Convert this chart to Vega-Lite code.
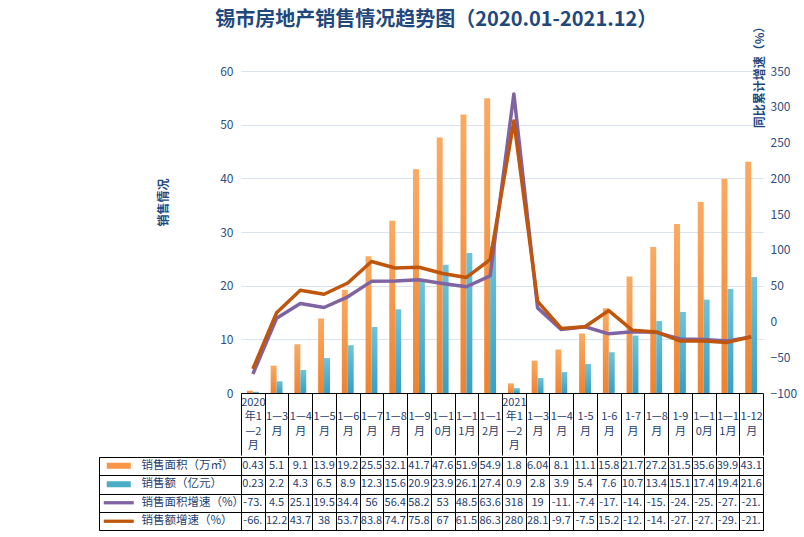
{
  "$schema": "https://vega.github.io/schema/vega-lite/v6.json",
  "padding": {"left": 98, "top": 10, "right": 5, "bottom": 5},
  "background": "white",
  "title": {"text": "锡市房地产销售情况趋势图（2020.01-2021.12）", "fontSize": 20, "fontWeight": "bold", "color": "#1F497D", "font": "Noto Sans CJK SC", "anchor": "middle", "offset": -10, "dx": -11},
  "config": {"view": {"stroke": null}, "font": "Noto Sans CJK SC"},
  "data": {"values": [
    {"cat": "2020年1—2月", "area": 0.43, "amount": 0.23, "areaG": -73.4, "amountG": -66.3},
    {"cat": "2020年1—3月", "area": 5.1, "amount": 2.2, "areaG": 4.5, "amountG": 12.2},
    {"cat": "2020年1—4月", "area": 9.1, "amount": 4.3, "areaG": 25.1, "amountG": 43.7},
    {"cat": "2020年1—5月", "area": 13.9, "amount": 6.5, "areaG": 19.5, "amountG": 38},
    {"cat": "2020年1—6月", "area": 19.2, "amount": 8.9, "areaG": 34.4, "amountG": 53.7},
    {"cat": "2020年1—7月", "area": 25.5, "amount": 12.3, "areaG": 56, "amountG": 83.8},
    {"cat": "2020年1—8月", "area": 32.1, "amount": 15.6, "areaG": 56.4, "amountG": 74.7},
    {"cat": "2020年1—9月", "area": 41.7, "amount": 20.9, "areaG": 58.2, "amountG": 75.8},
    {"cat": "2020年1—10月", "area": 47.6, "amount": 23.9, "areaG": 53, "amountG": 67},
    {"cat": "2020年1—11月", "area": 51.9, "amount": 26.1, "areaG": 48.5, "amountG": 61.5},
    {"cat": "2020年1—12月", "area": 54.9, "amount": 27.4, "areaG": 63.6, "amountG": 86.3},
    {"cat": "2021年1—2月", "area": 1.8, "amount": 0.9, "areaG": 318, "amountG": 280},
    {"cat": "2021年1—3月", "area": 6.04, "amount": 2.8, "areaG": 19, "amountG": 28.1},
    {"cat": "2021年1—4月", "area": 8.1, "amount": 3.9, "areaG": -11.4, "amountG": -9.7},
    {"cat": "2021年1-5月", "area": 11.1, "amount": 5.4, "areaG": -7.4, "amountG": -7.5},
    {"cat": "2021年1-6月", "area": 15.8, "amount": 7.6, "areaG": -17.3, "amountG": 15.2},
    {"cat": "2021年1-7月", "area": 21.7, "amount": 10.7, "areaG": -14.3, "amountG": -12.4},
    {"cat": "2021年1—8月", "area": 27.2, "amount": 13.4, "areaG": -15.2, "amountG": -14.6},
    {"cat": "2021年1-9月", "area": 31.5, "amount": 15.1, "areaG": -24.6, "amountG": -27.3},
    {"cat": "2021年1—10月", "area": 35.6, "amount": 17.4, "areaG": -25.4, "amountG": -27.5},
    {"cat": "2021年1—11月", "area": 39.9, "amount": 19.4, "areaG": -27.2, "amountG": -29.3},
    {"cat": "2021年1-12月", "area": 43.1, "amount": 21.6, "areaG": -21.6, "amountG": -21.4}
  ]},
  "spacing": 0,
  "bounds": "full",
  "resolve": {"scale": {"color": "independent", "shape": "independent", "x": "independent"}, "legend": {"color": "independent", "shape": "independent"}},
  "vconcat": [
    {
      "spacing": 0,
      "bounds": "flush",
      "hconcat": [
        {"width": 142, "height": 322, "mark": {"type": "point", "opacity": 0}, "encoding": {}},
        {
          "width": 522, "height": 322,
          "encoding": {
            "x": {"field": "cat", "type": "nominal", "sort": null, "scale": {"paddingInner": 0, "paddingOuter": 0},
              "axis": {"title": null, "domain": true, "domainColor": "black", "domainWidth": 1, "ticks": true, "tickColor": "black", "tickSize": 62, "tickBand": "extent", "labelAngle": 0, "labelPadding": -59, "labelBaseline": "top", "labelAlign": "center", "labelFontSize": 11, "labelLineHeight": 14.5, "labelColor": "#1F3E6E", "labelOverlap": false, "labelFlush": false,
                "labelExpr": "!isString(datum.value) ? '' : indexof(datum.value,'1—2月')>0 ? [slice(datum.value,0,4),'年1','—2','月'] : length(datum.value)==9 ? ['', slice(datum.value,5,8),'月'] : indexof(datum.value,'—')>0 ? ['', slice(datum.value,5,8),slice(datum.value,8)] : ['', slice(datum.value,5,9),'月']"}}
          },
          "layer": [
            {
              "transform": [{"fold": ["area", "amount"], "as": ["key", "value"]}],
              "mark": {"type": "bar"},
              "encoding": {
                "xOffset": {"field": "key", "type": "nominal", "scale": {"domain": ["area", "amount"], "paddingInner": 0, "paddingOuter": 1.37}},
                "y": {"field": "value", "type": "quantitative", "scale": {"domain": [0, 60], "nice": false},
                  "axis": {"values": [0, 10, 20, 30, 40, 50, 60], "grid": true, "gridColor": "#D9E3F0", "domain": false, "ticks": false, "labelPadding": 8, "labelFontSize": 12, "labelColor": "#2F4F80", "title": "销售情况", "titleAngle": 270, "titleX": -78, "titleY": 131, "titleAlign": "center", "titleBaseline": "middle", "titleFontSize": 12, "titleColor": "#1F497D", "titleFontWeight": "bold"}},
                "fill": {
                  "condition": {"test": "datum.key === 'area'", "value": {"gradient": "linear", "x1": 0, "y1": 0, "x2": 0, "y2": 1, "stops": [{"offset": 0, "color": "#FBAA62"}, {"offset": 1, "color": "#EE8330"}]}},
                  "value": {"gradient": "linear", "x1": 0, "y1": 0, "x2": 0, "y2": 1, "stops": [{"offset": 0, "color": "#70C3D8"}, {"offset": 1, "color": "#3A9FC0"}]}
                }
              }
            },
            {
              "transform": [{"fold": ["areaG", "amountG"], "as": ["key", "value"]}],
              "mark": {"type": "line", "strokeWidth": 3.5, "strokeJoin": "round"},
              "encoding": {
                "y": {"field": "value", "type": "quantitative", "scale": {"domain": [-100, 350], "nice": false, "zero": false},
                  "axis": {"orient": "right", "values": [-100, -50, 0, 50, 100, 150, 200, 250, 300, 350], "grid": false, "domain": false, "ticks": false, "labelPadding": 7, "labelFontSize": 12, "labelColor": "#2F4F80", "title": "同比累计增速（%）", "titleAngle": 270, "titleX": -4, "titleY": 3, "titleAlign": "center", "titleBaseline": "middle", "titleFontSize": 12, "titleColor": "#1F497D", "titleFontWeight": "bold"}},
                "detail": {"field": "key", "type": "nominal"},
                "stroke": {"condition": {"test": "datum.key === 'areaG'", "value": "#8064A2"}, "value": "#C0560C"}
              }
            }
          ],
          "resolve": {"scale": {"y": "independent"}}
        }
      ]
    },
    {
      "spacing": 0,
      "bounds": "flush",
      "resolve": {"scale": {"color": "independent", "shape": "independent"}, "legend": {"color": "independent", "shape": "independent"}},
      "hconcat": [
        {
          "width": 142, "height": 73,
          "view": {"stroke": "black", "strokeWidth": 1},
          "transform": [{"fold": ["area", "amount", "areaG", "amountG"], "as": ["key", "value"]}],
          "mark": {"type": "point", "filled": true, "opacity": 0},
          "encoding": {
            "color": {"field": "key", "type": "nominal", "scale": {"domain": ["area", "amount", "areaG", "amountG"], "range": ["#F79646", "#4BACC6", "#8064A2", "#C0560C"]},
              "legend": {"orient": "none", "legendX": 14, "legendY": 3, "title": null, "padding": 0, "rowPadding": 5.5, "symbolSize": 36, "symbolOpacity": 1, "symbolStrokeWidth": 0, "labelOffset": 17, "labelFontSize": 11.5, "labelColor": "#1F3E6E", "labelExpr": "datum.value=='area'?'销售面积（万㎡）':datum.value=='amount'?'销售额（亿元）':datum.value=='areaG'?'销售面积增速（%）':'销售额增速（%）'"}},
            "shape": {"field": "key", "type": "nominal", "scale": {"domain": ["area", "amount", "areaG", "amountG"], "range": ["M-4,-1H4V1H-4Z", "M-4,-1H4V1H-4Z", "M-5,-0.55H5V0.55H-5Z", "M-5,-0.55H5V0.55H-5Z"]},
              "legend": {"orient": "none", "legendX": 14, "legendY": 3, "title": null, "padding": 0, "rowPadding": 5.5, "symbolSize": 36, "symbolOpacity": 1, "symbolStrokeWidth": 0, "labelOffset": 17, "labelFontSize": 11.5, "labelColor": "#1F3E6E", "labelExpr": "datum.value=='area'?'销售面积（万㎡）':datum.value=='amount'?'销售额（亿元）':datum.value=='areaG'?'销售面积增速（%）':'销售额增速（%）'"}}
          }
        },
        {
          "width": 522, "height": 73,
          "view": {"stroke": "black", "strokeWidth": 1},
          "transform": [{"fold": ["area", "amount", "areaG", "amountG"], "as": ["key", "value"]}],
          "mark": {"type": "text", "fontSize": 11, "color": "#1F3E6E", "limit": 24, "ellipsis": "\u200b", "baseline": "middle"},
          "encoding": {
            "x": {"field": "cat", "type": "nominal", "sort": null, "scale": {"paddingInner": 0, "paddingOuter": 0},
              "axis": {"title": null, "orient": "top", "labels": false, "ticks": false, "domain": false, "grid": true, "gridColor": "black", "gridOpacity": 1, "tickBand": "extent"}},
            "y": {"field": "key", "type": "nominal", "sort": ["area", "amount", "areaG", "amountG"], "scale": {"paddingInner": 0, "paddingOuter": 0},
              "axis": {"title": null, "labels": false, "ticks": true, "tickSize": 142, "tickColor": "black", "tickBand": "extent", "domain": true, "domainColor": "black", "grid": true, "gridColor": "black", "gridOpacity": 1}},
            "text": {"field": "value", "type": "nominal"}
          }
        }
      ]
    }
  ]
}
